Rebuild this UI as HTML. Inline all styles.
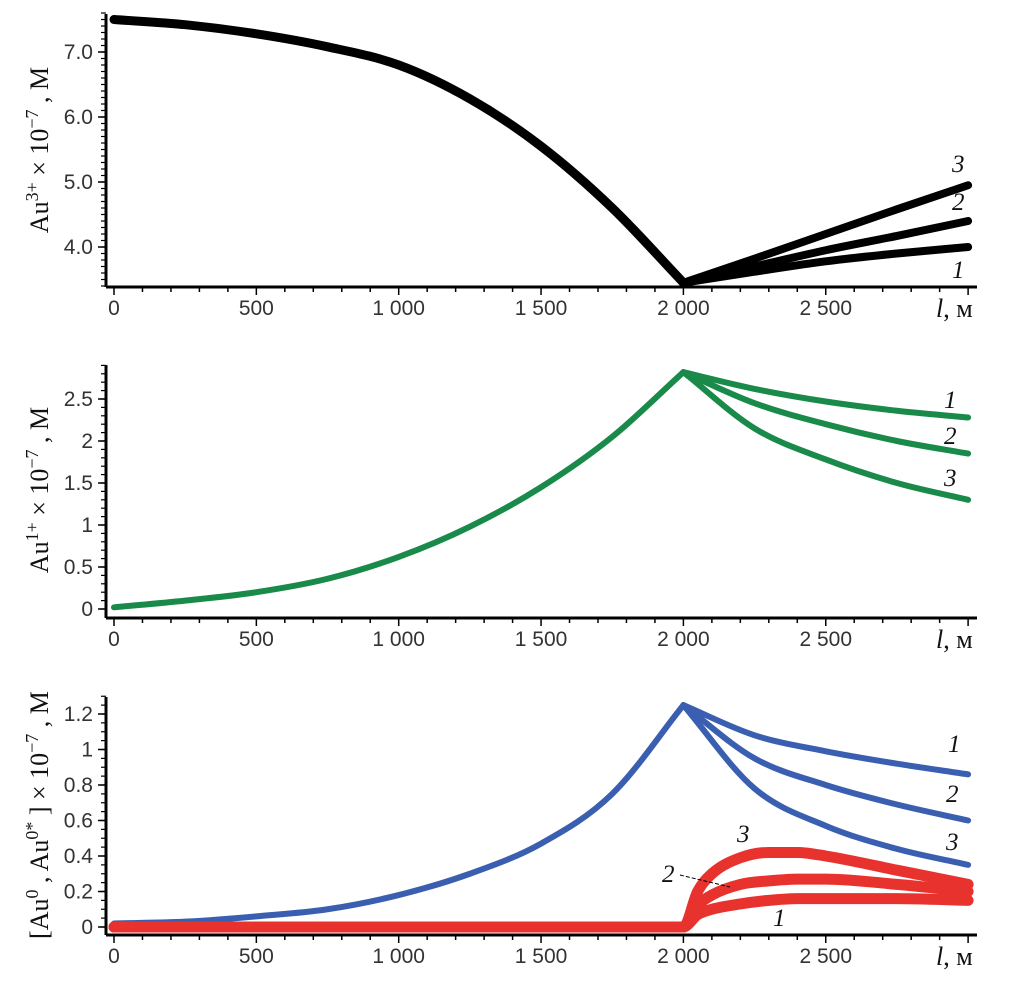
<!DOCTYPE html>
<html><head><meta charset="utf-8"><style>
body{margin:0;background:#fff;width:1010px;height:983px;overflow:hidden}
svg{display:block}
text{font-family:"Liberation Sans",sans-serif;fill:#333}
.ser{font-family:"Liberation Serif",serif;fill:#111}
</style></head><body>
<svg id="chart" width="1010" height="983" viewBox="0 0 1010 983"></svg>
<script>
const xs = [0,250,500,750,1000,1250,1500,1750,2000];
const xsAfter = [2000,2250,2500,2750,3000];
const au3Before = [7.5,7.42,7.28,7.08,6.8,6.28,5.55,4.6,3.45];
const au3After1 = [3.45,3.62,3.78,3.9,4.0];
const au3After2 = [3.45,3.7,3.95,4.17,4.4];
const au3After3 = [3.45,3.82,4.2,4.58,4.95];
const au1Before = [0.02,0.1,0.2,0.36,0.62,0.98,1.45,2.05,2.82];
const au1After1 = [2.82,2.62,2.47,2.36,2.28];
const au1After2 = [2.82,2.45,2.2,2.0,1.85];
const au1After3 = [2.82,2.15,1.78,1.5,1.3];
const au0Before = [0.02,0.03,0.06,0.1,0.18,0.3,0.47,0.75,1.25];
const au0After1 = [1.25,1.08,0.99,0.92,0.86];
const au0After2 = [1.25,0.95,0.8,0.69,0.6];
const au0After3 = [1.25,0.78,0.57,0.44,0.35];
const redXs = [0,2000,2050,2100,2200,2300,2400,2500,2750,3000];
const red1 = [0,0,0.07,0.1,0.13,0.15,0.16,0.16,0.16,0.15];
const red2 = [0,0,0.12,0.18,0.24,0.26,0.27,0.27,0.24,0.2];
const red3 = [0,0,0.2,0.3,0.39,0.42,0.42,0.4,0.32,0.24];
const xTicks = [0,500,1000,1500,2000,2500];
const xTickLabels = ["0","500","1 000","1 500","2 000","2 500"];
const p1Ticks=[4,5,6,7], p1Labels=["4.0","5.0","6.0","7.0"];
const p2Ticks=[0,0.5,1,1.5,2,2.5], p2Labels=["0","0.5","1","1.5","2","2.5"];
const p3Ticks=[0,0.2,0.4,0.6,0.8,1,1.2], p3Labels=["0","0.2","0.4","0.6","0.8","1","1.2"];

const NS="http://www.w3.org/2000/svg";
const svg=document.getElementById('chart');
function mk(tag,attrs,parent){const e=document.createElementNS(NS,tag);for(const k in attrs)e.setAttribute(k,attrs[k]);(parent||svg).appendChild(e);return e;}
const X=v=>114+v*0.2847;
function path(xa,ya,Y,color,w,name){
  const px=xa.map(X), py=ya.map(Y), n=px.length;
  const d0=[];for(let i=0;i<n-1;i++)d0.push((py[i+1]-py[i])/(px[i+1]-px[i]));
  const m=[];
  for(let i=0;i<n;i++){
    if(i===0)m.push(d0[0]);else if(i===n-1)m.push(d0[n-2]);
    else m.push(d0[i-1]*d0[i]<=0?0:(d0[i-1]+d0[i])/2);
  }
  for(let i=0;i<n-1;i++){
    if(d0[i]===0){m[i]=0;m[i+1]=0;continue;}
    const a=m[i]/d0[i],b=m[i+1]/d0[i],s=a*a+b*b;
    if(s>9){const t=3/Math.sqrt(s);m[i]=t*a*d0[i];m[i+1]=t*b*d0[i];}
  }
  let d="M"+px[0]+","+py[0];
  for(let i=0;i<n-1;i++){
    const h=(px[i+1]-px[i])/3;
    d+=` C${px[i]+h},${py[i]+m[i]*h} ${px[i+1]-h},${py[i+1]-m[i+1]*h} ${px[i+1]},${py[i+1]}`;
  }
  const e=mk('path',{d:d,fill:'none',stroke:color,'stroke-width':w,'stroke-linejoin':'round','stroke-linecap':'round'});
  
  
}
function panel(pre,top,bottom,Y,ticks,labels,minorStep,ymin,ymax,title,labelY){
  const g=mk('g',{});
  
  
  mk('line',{x1:106,y1:top,x2:106,y2:bottom,stroke:'#000','stroke-width':3},g);
  mk('line',{x1:106,y1:bottom,x2:977,y2:bottom,stroke:'#000','stroke-width':3},g);
  for(let v=0;v<=3000;v+=100){
    const maj=v%500===0;
    mk('line',{x1:X(v),y1:bottom,x2:X(v),y2:bottom+(maj?8:5),stroke:'#000','stroke-width':1.5},g);
  }
  xTicks.forEach((v,i)=>{const t=mk('text',{x:X(v),y:bottom+28,'font-size':21,'text-anchor':'middle'},g);t.textContent=xTickLabels[i];});
  const lt=mk('text',{x:936,y:bottom+30,'font-size':26,class:'ser'},g);
  lt.innerHTML='<tspan font-style="italic">l</tspan>, м';
  for(let v=Math.ceil(ymin/minorStep)*minorStep;v<=ymax+1e-9;v+=minorStep){
    mk('line',{x1:106,y1:Y(v),x2:101,y2:Y(v),stroke:'#000','stroke-width':1.2},g);
  }
  ticks.forEach((v,i)=>{
    mk('line',{x1:106,y1:Y(v),x2:98,y2:Y(v),stroke:'#000','stroke-width':1.5},g);
    const t=mk('text',{x:93,y:Y(v)+7,'font-size':21,'text-anchor':'end'},g);t.textContent=labels[i];
  });
  const tt=mk('text',{x:0,y:0,'font-size':26,class:'ser','text-anchor':'middle',transform:`translate(48,${labelY}) rotate(-90)`},g);
  tt.innerHTML=title;
  
  
}
function lab(x,y,s,name){const t=mk('text',{x:x,y:y,'font-size':25,'font-style':'italic',class:'ser'});t.textContent=s;
  }
const SUP=(s)=>`<tspan dy="-10" font-size="18">${s}</tspan><tspan dy="10"> </tspan>`;

// Panel 1
const Y1=v=>52+(7-v)*65;
panel('au3',14,287,Y1,p1Ticks,p1Labels,0.1,3.4,7.6,'Au'+SUP('3+')+'× 10'+SUP('−7')+', M',150);
path(xs,au3Before,Y1,'#000',9,'au3-curve');
path(xsAfter,au3After1,Y1,'#000',8,'au3-curve-1');
path(xsAfter,au3After2,Y1,'#000',8,'au3-curve-2');
path(xsAfter,au3After3,Y1,'#000',8,'au3-curve-3');
lab(952,172,'3','label-3');lab(952,210,'2','label-2');lab(952,278,'1','label-1');

// Panel 2
const Y2=v=>609-v*84;
panel('au1',365,618,Y2,p2Ticks,p2Labels,0.1,0,2.9,'Au'+SUP('1+')+'× 10'+SUP('−7')+', M',490);
path(xs,au1Before,Y2,'#1a8a4a',6,'au1-curve');
path(xsAfter,au1After1,Y2,'#1a8a4a',6,'au1-curve-1');
path(xsAfter,au1After2,Y2,'#1a8a4a',6,'au1-curve-2');
path(xsAfter,au1After3,Y2,'#1a8a4a',6,'au1-curve-3');
lab(944,408,'1','label-1');lab(944,444,'2','label-2');lab(944,486,'3','label-3');

// Panel 3
const Y3=v=>927-v*177.5;
panel('au0',697,935,Y3,p3Ticks,p3Labels,0.05,0,1.3,'[Au'+SUP('0')+', Au'+SUP('0*')+'] × 10'+SUP('−7')+', M',815);
path(xs,au0Before,Y3,'#3b5fb0',6,'au0-curve');
path(xsAfter,au0After1,Y3,'#3b5fb0',6,'au0-curve-1');
path(xsAfter,au0After2,Y3,'#3b5fb0',6,'au0-curve-2');
path(xsAfter,au0After3,Y3,'#3b5fb0',6,'au0-curve-3');
path(redXs,red1,Y3,'#e8322e',11,'au0star-curve-1');
path(redXs,red2,Y3,'#e8322e',11,'au0star-curve-2');
path(redXs,red3,Y3,'#e8322e',11,'au0star-curve-3');
lab(948,752,'1','label-1');lab(946,802,'2','label-2');lab(946,850,'3','label-3');
lab(737,842,'3','label-red-3');lab(662,882,'2','label-red-2');lab(773,926,'1','label-red-1');
mk('line',{x1:680,y1:875,x2:730,y2:887,stroke:'#000','stroke-width':1,'stroke-dasharray':'4,2'});
</script>
</body></html>
